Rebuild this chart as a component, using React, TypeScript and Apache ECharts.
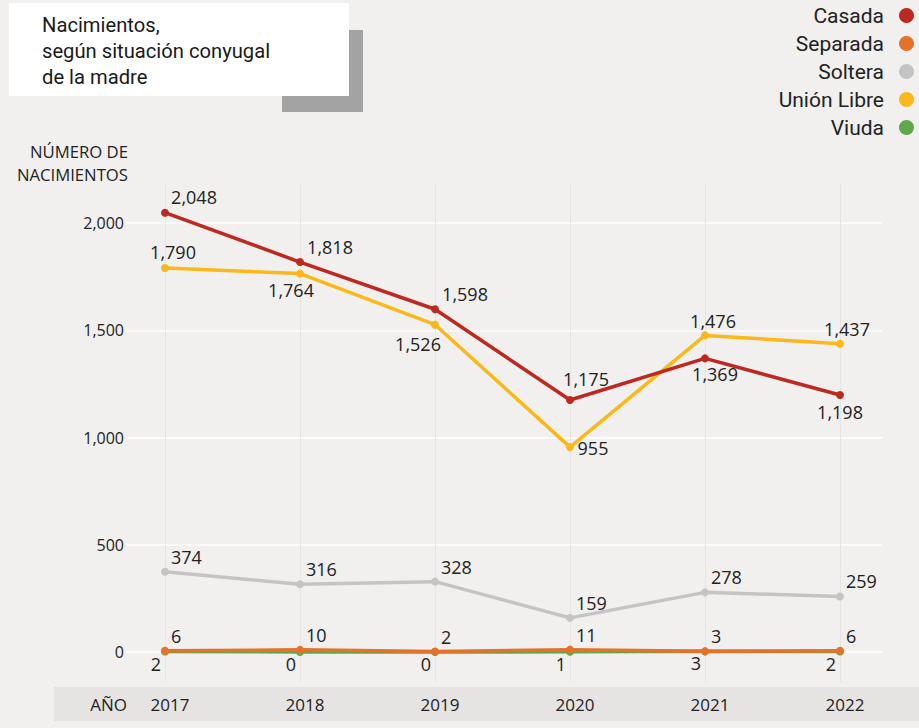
import React, { useEffect, useRef } from "react";
import * as echarts from "echarts";

const YEARS = [2017, 2018, 2019, 2020, 2021, 2022];
const YEAR_LABELS = ["2017", "2018", "2019", "2020", "2021", "2022"];
const CASADA = [2048, 1818, 1598, 1175, 1369, 1198];
const SEPARADA = [6, 10, 2, 11, 3, 6];
const SOLTERA = [374, 316, 328, 159, 278, 259];
const UNION_LIBRE = [1790, 1764, 1526, 955, 1476, 1437];
const VIUDA = [2, 0, 0, 1, 3, 2];
const Y_TICKS = [0, 500, 1000, 1500, 2000];

// label offsets (style only): [dx, dy] of label anchor from the point
const CASADA_LABEL_OFFSETS = [[29, -16], [30, -15], [30, -15], [16, -21], [10, 16], [0, 17]];
const UNION_LABEL_OFFSETS = [[8, -16], [-9, 16], [-17, 19], [23, 1], [8, -14], [7, -15]];

const FONT = "'Open Sans', 'Noto Sans', sans-serif";
const TITLE_FONT = "Roboto, 'Noto Sans', sans-serif";
const SYM = 8;

function fmt(v: number) {
  return v.toLocaleString("en-US");
}

function labelAt(dx: number, dy: number, align: string) {
  return {
    show: true,
    position: [SYM / 2 + dx, SYM / 2 + dy],
    align,
    verticalAlign: "middle",
    color: "#222",
    fontSize: 18,
    fontFamily: FONT,
    formatter: (p: any) => fmt(p.value[1]),
  };
}

function makeSeries(
  name: string,
  values: number[],
  color: string,
  labelFn: (i: number) => any,
  z: number
) {
  return {
    name,
    type: "line",
    xAxisIndex: 0,
    yAxisIndex: 0,
    clip: false,
    z,
    symbol: "circle",
    symbolSize: SYM,
    showSymbol: true,
    lineStyle: { color, width: 3.5 },
    itemStyle: { color },
    emphasis: { disabled: true },
    data: values.map((v, i) => ({ value: [YEARS[i], v], label: labelFn(i) })),
  };
}

export default function App() {
  const ref = useRef<HTMLDivElement>(null);

  useEffect(() => {
    if (!ref.current) return;
    const chart = echarts.init(ref.current, undefined, { renderer: "svg" });
    const option: any = {
      animation: false,
      backgroundColor: "#f1f0ee",
      textStyle: { fontFamily: FONT },
      grid: [
        { left: 126, right: 37, top: 223, bottom: 76, containLabel: false },
        { left: 165, right: 79, top: 183, bottom: 46, containLabel: false },
      ],
      xAxis: [
        {
          gridIndex: 0,
          type: "value",
          min: 2016.711,
          max: 2022.311,
          show: false,
          splitLine: { show: false },
        },
        {
          gridIndex: 1,
          type: "category",
          boundaryGap: false,
          data: YEAR_LABELS,
          axisLine: { show: false },
          axisTick: { show: false },
          splitLine: { show: true, lineStyle: { color: "#e6e5e3", width: 1 } },
          axisLabel: {
            color: "#222",
            fontSize: 17,
            fontFamily: FONT,
            margin: 14,
            padding: [0, 0, 0, 10],
          },
          z: 0,
        },
      ],
      yAxis: [
        {
          gridIndex: 0,
          type: "value",
          min: 0,
          max: 2000,
          interval: 500,
          axisLine: { show: false },
          axisTick: { show: false },
          splitLine: { show: true, lineStyle: { color: "#ffffff", width: 1.5 } },
          axisLabel: {
            color: "#222",
            fontSize: 16,
            fontFamily: FONT,
            margin: 2,
            formatter: (v: number) => (Y_TICKS.includes(v) ? fmt(v) : ""),
          },
        },
        {
          gridIndex: 1,
          type: "value",
          min: 0,
          max: 1,
          show: false,
          splitLine: { show: false },
        },
      ],
      legend: {
        data: ["Casada", "Separada", "Soltera", "Unión Libre", "Viuda"],
        orient: "vertical",
        right: 5,
        top: 5,
        padding: 0,
        align: "right",
        icon: "circle",
        itemWidth: 15,
        itemHeight: 15,
        itemGap: 7,
        selectedMode: false,
        textStyle: {
          fontFamily: TITLE_FONT,
          fontSize: 21,
          color: "#222",
          lineHeight: 21,
          padding: [0, 10, 0, 0],
        },
      },
      graphic: [
        {
          type: "rect",
          z: -10,
          shape: { x: 54, y: 687, width: 865, height: 34 },
          style: { fill: "#e5e4e2" },
          silent: true,
        },
        {
          type: "rect",
          z: 1,
          shape: { x: 282, y: 30, width: 81, height: 82 },
          style: { fill: "#a3a3a3" },
          silent: true,
        },
        {
          type: "rect",
          z: 2,
          shape: { x: 9, y: 3, width: 340, height: 93 },
          style: { fill: "#ffffff" },
          silent: true,
        },
        {
          type: "text",
          z: 3,
          x: 42,
          y: 12,
          style: {
            text: "Nacimientos,\nsegún situación conyugal\nde la madre",
            fontFamily: TITLE_FONT,
            fontSize: 20.2,
            lineHeight: 26,
            fill: "#1a1a1a",
          },
          silent: true,
        },
        {
          type: "text",
          z: 3,
          x: 128,
          y: 140,
          style: {
            text: "NÚMERO DE\nNACIMIENTOS",
            fontFamily: FONT,
            fontSize: 16.7,
            lineHeight: 23,
            fill: "#222",
            align: "right",
          },
          silent: true,
        },
        {
          type: "text",
          z: 3,
          x: 127,
          y: 704,
          style: {
            text: "AÑO",
            fontFamily: FONT,
            fontSize: 17,
            fill: "#222",
            align: "right",
            verticalAlign: "middle",
          },
          silent: true,
        },
      ],
      series: [
        makeSeries("Viuda", VIUDA, "#5fa84e", () => labelAt(-4, 12, "right"), 2),
        makeSeries("Soltera", SOLTERA, "#c4c4c4", () => labelAt(6, -15, "left"), 3),
        makeSeries(
          "Unión Libre",
          UNION_LIBRE,
          "#fab81a",
          (i) => labelAt(UNION_LABEL_OFFSETS[i][0], UNION_LABEL_OFFSETS[i][1], "center"),
          4
        ),
        makeSeries(
          "Casada",
          CASADA,
          "#bd2820",
          (i) => labelAt(CASADA_LABEL_OFFSETS[i][0], CASADA_LABEL_OFFSETS[i][1], "center"),
          5
        ),
        makeSeries("Separada", SEPARADA, "#e5722a", () => labelAt(6, -15, "left"), 6),
      ],
    };
    chart.setOption(option);
    return () => chart.dispose();
  }, []);

  return (
    <div
      ref={ref}
      style={{ position: "fixed", left: 0, top: 0, width: 919, height: 728 }}
    />
  );
}
